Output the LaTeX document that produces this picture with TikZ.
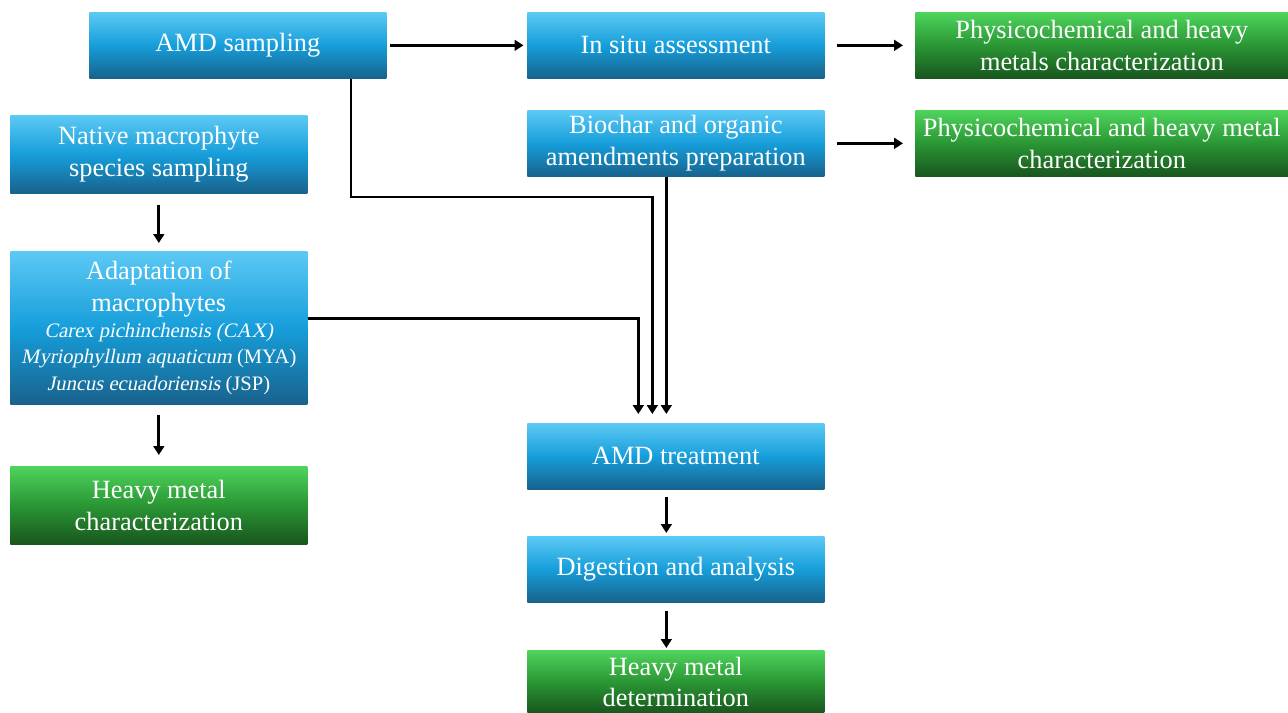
\documentclass[tikz,border=0pt]{standalone}
\usepackage{fontspec}
\setmainfont{Liberation Serif}[ItalicFont={Liberation Serif}, ItalicFeatures={FakeSlant=0.2}]
\usetikzlibrary{arrows.meta, positioning, calc}
\definecolor{boxTop}{RGB}{92,201,245}
\definecolor{boxMid}{RGB}{22,158,218}
\definecolor{boxBot}{RGB}{24,98,140}
\definecolor{resTop}{RGB}{78,212,92}
\definecolor{resMid}{RGB}{42,150,52}
\definecolor{resBot}{RGB}{24,86,30}
\tikzset{
    step box/.style={rectangle, top color=boxTop, bottom color=boxBot, middle color=boxMid, text=white, align=center, minimum width=5.94cm, minimum height=1.32cm, font=\fontsize{15}{18}\selectfont, anchor=north west, inner sep=0pt},
    result box/.style={step box, top color=resTop, bottom color=resBot, middle color=resMid},
    arrow/.style={-{Triangle[width=6pt,length=5pt]}, line width=1.6pt, draw=black},
}
\begin{document}
\begin{tikzpicture}[x=0.02cm, y=-0.02cm]
    \useasboundingbox (0,0) rectangle (1288,713);
    % Nodes
    \node[step box] (amd) at (89,12) {AMD sampling};
    \node[step box] (insitu) at (527,12) {In situ assessment};
    \node[result box, minimum width=7.46cm] (physA) at (915,12) {Physicochemical and heavy\\ metals characterization};

    \node[step box, minimum height=1.56cm] (native) at (10,115) {Native macrophyte\\ species sampling};
    \node[step box] (biochar) at (527,110) {Biochar and organic\\ amendments preparation};
    \node[result box, minimum width=7.46cm] (physB) at (915,110) {Physicochemical and heavy metal\\ characterization};

    \node[step box, minimum height=3.06cm] (adapt) at (10,251) {Adaptation of\\ macrophytes\\[-3pt]
        {\fontsize{11.7}{13.6}\selectfont\itshape Carex pichinchensis (CAX)}\\[-3pt]
        {\fontsize{11.7}{13.6}\selectfont\itshape Myriophyllum aquaticum \upshape(MYA)}\\[-3pt]
        {\fontsize{11.7}{13.6}\selectfont\itshape Juncus ecuadoriensis \upshape(JSP)}};
    \node[result box, minimum height=1.56cm] (heavy) at (10,466) {Heavy metal\\ characterization};

    \node[step box] (treat) at (527,423) {AMD treatment};
    \node[step box] (digest) at (527,536) {Digestion and analysis};
    \node[result box, minimum height=1.26cm] (determ) at (527,650) {Heavy metal\\ determination};

    % Edges
    \draw[arrow, shorten <=2pt, shorten >=2pt] (amd) -- (insitu);
    \draw[arrow, shorten <=0.24cm, shorten >=0.24cm] (insitu) -- (physA);
    \draw[arrow, shorten <=0.24cm, shorten >=0.24cm] (biochar) -- (physB);
    \draw[arrow, shorten <=0.22cm, shorten >=0.16cm] (native) -- (adapt);
    \draw[arrow, shorten <=0.2cm, shorten >=0.22cm] (adapt) -- (heavy);

    \coordinate (bend) at (351,197);
    \draw[arrow, shorten >=0.18cm] (amd.south -| bend) -- (bend) -| ([xshift=-0.47cm]treat.north);
    \draw[arrow, shorten >=0.18cm] ([xshift=-0.19cm]biochar.south) -- ([xshift=-0.19cm]treat.north);
    \draw[arrow, shorten >=0.18cm] ([yshift=0.18cm]adapt.east) -| ([xshift=-0.75cm]treat.north);

    \draw[arrow, shorten <=0.14cm, shorten >=0.06cm] ([xshift=-0.19cm]treat.south) -- ([xshift=-0.19cm]digest.north);
    \draw[arrow, shorten <=0.16cm, shorten >=0.04cm] ([xshift=-0.19cm]digest.south) -- ([xshift=-0.19cm]determ.north);
\end{tikzpicture}
\end{document}
